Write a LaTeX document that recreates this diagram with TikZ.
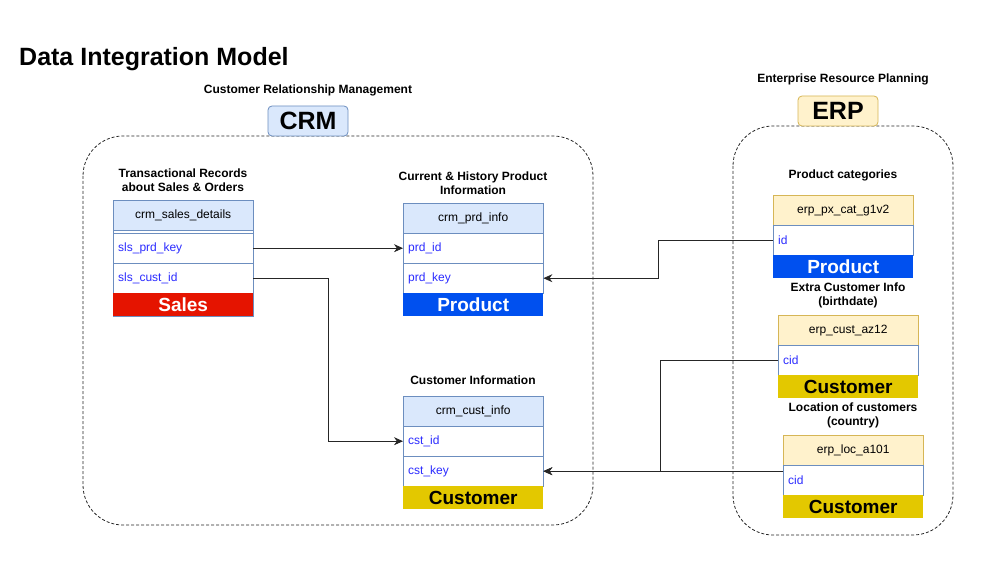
\documentclass[tikz,border=0pt]{standalone}
\usepackage{fontspec}
\setmainfont{Liberation Sans}
\usetikzlibrary{arrows.meta,positioning}
\definecolor{crmfill}{HTML}{DAE8FC}
\definecolor{crmline}{HTML}{6C8EBF}
\definecolor{erpfill}{HTML}{FFF2CC}
\definecolor{erpline}{HTML}{D6B656}
\definecolor{salesred}{HTML}{E51400}
\definecolor{prodblue}{HTML}{0050EF}
\definecolor{custyellow}{HTML}{E3C800}
\definecolor{fieldblue}{HTML}{2B2BFF}

\begin{document}
\begin{tikzpicture}[x=1pt,y=-1pt,
    hdrcrm/.style={draw=crmline,fill=crmfill,minimum width=140pt,minimum height=30pt,
      inner sep=0pt,anchor=north west,font=\fontsize{12}{14}\selectfont},
    hdrerp/.style={hdrcrm,draw=erpline,fill=erpfill},
    fieldrow/.style={draw=crmline,fill=white,minimum height=30pt,text width=130pt,
      inner xsep=5pt,inner ysep=0pt,align=left,anchor=north west,text=fieldblue,
      font=\fontsize{12}{14}\selectfont},
    footrow/.style={minimum width=140pt,minimum height=23pt,inner sep=0pt,
      anchor=north west,font=\fontsize{19}{19}\selectfont\bfseries},
    caption/.style={align=center,font=\fontsize{12}{14}\selectfont\bfseries},
    group/.style={draw=black!85,line width=0.8pt,dash pattern=on 3pt off 2pt,rounded corners=40pt},
    tag/.style={rounded corners=4pt,line width=0.8pt,minimum width=80pt,minimum height=30pt,
      inner sep=0pt,font=\fontsize{25}{25}\selectfont\bfseries},
    link/.style={draw=black!85,line width=0.8pt,-{Stealth[length=9pt,width=8pt]}}]
  \useasboundingbox (0,0) rectangle (986,575);

  % title
  \node[anchor=base west,font=\fontsize{25}{25}\selectfont\bfseries,inner sep=0pt] (title) at (19,66) {Data Integration Model};

  % the two systems
  \draw[group] (83,136) rectangle (593,525);
  \draw[group] (733,126) rectangle (953,535);
  \node[caption] (crmcap) at (308,90) {Customer Relationship Management};
  \node[tag,draw=crmline,fill=crmfill] (crm) at (308,121) {CRM};
  \node[caption] (erpcap) at (843,79) {Enterprise Resource Planning};
  \node[tag,draw=erpline,fill=erpfill] (erp) at (838,111) {ERP};

  % crm_sales_details
  \node[caption] (salescap) at (183,180) {Transactional Records\\about Sales \& Orders};
  \draw[crmline,line width=0.8pt] (113,200) rectangle (253,316);
  \node[hdrcrm] (sales) at (113,200) {crm\_sales\_details};
  \node[fieldrow] (slsprd) at (113,233) {sls\_prd\_key};
  \node[fieldrow] (slscust) at (113,263) {sls\_cust\_id};
  \node[footrow,fill=salesred,text=white] (salesft) at (113,293) {Sales};

  % crm_prd_info
  \node[caption] (prdcap) at (473,183) {Current \& History Product\\Information};
  \node[hdrcrm] (prd) at (403,203) {crm\_prd\_info};
  \node[fieldrow] (prdid) at (403,233) {prd\_id};
  \node[fieldrow] (prdkey) at (403,263) {prd\_key};
  \node[footrow,fill=prodblue,text=white] (prdft) at (403,293) {Product};

  % crm_cust_info
  \node[caption] (custcap) at (473,380) {Customer Information};
  \node[hdrcrm] (cust) at (403,396) {crm\_cust\_info};
  \node[fieldrow] (cstid) at (403,426) {cst\_id};
  \node[fieldrow] (cstkey) at (403,456) {cst\_key};
  \node[footrow,fill=custyellow] (custft) at (403,486) {Customer};

  % erp_px_cat_g1v2
  \node[caption] (pxcap) at (843,175) {Product categories};
  \node[hdrerp] (px) at (773,195) {erp\_px\_cat\_g1v2};
  \node[fieldrow] (pxid) at (773,225) {id};
  \node[footrow,fill=prodblue,text=white] (pxft) at (773,255) {Product};

  % erp_cust_az12
  \node[caption] (azcap) at (848,295) {Extra Customer Info\\(birthdate)};
  \node[hdrerp] (az) at (778,315) {erp\_cust\_az12};
  \node[fieldrow] (azcid) at (778,345) {cid};
  \node[footrow,fill=custyellow] (azft) at (778,375) {Customer};

  % erp_loc_a101
  \node[caption] (loccap) at (853,415) {Location of customers\\(country)};
  \node[hdrerp] (loc) at (783,435) {erp\_loc\_a101};
  \node[fieldrow] (loccid) at (783,465) {cid};
  \node[footrow,fill=custyellow] (locft) at (783,495) {Customer};

  % links
  \draw[link] (slsprd.east) -- (prdid.west);
  \draw[link] (slscust.east) -- ++(75,0) |- (cstid.west);
  \draw[link] (pxid.west) -- ++(-115,0) |- (prdkey.east);
  \draw[link] (azcid.west) -- ++(-118,0) |- (cstkey.east);
  \coordinate (locjoin) at (loccid.west |- cstkey.east);
  \draw[link] (locjoin) -- (cstkey.east);
\end{tikzpicture}
\end{document}
